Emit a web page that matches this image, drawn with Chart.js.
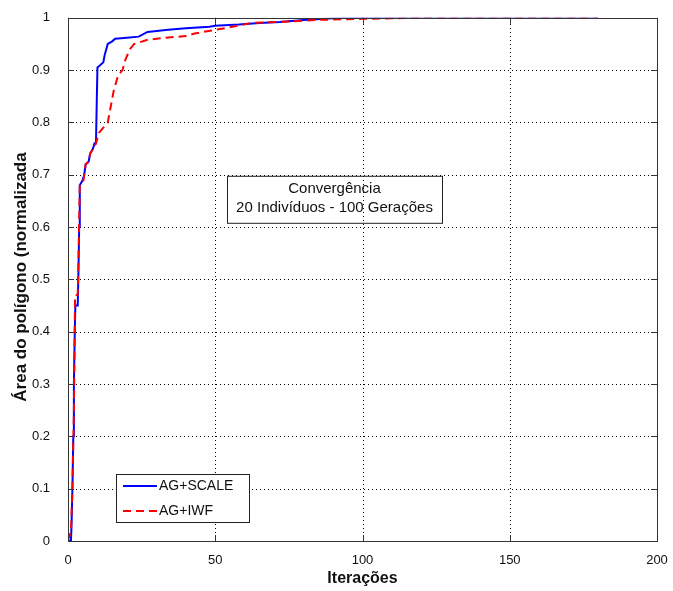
<!DOCTYPE html>
<html>
<head>
<meta charset="utf-8">
<script src="https://cdn.jsdelivr.net/npm/chart.js@4.4.1/dist/chart.umd.min.js"></script>
<style>
  html, body { margin: 0; padding: 0; background: #fff; }
  canvas { display: block; }
</style>
</head>
<body>
<canvas id="conv" width="673" height="591"></canvas>
<script>
// iterações / área normalizada
const scaleX = [0, 1, 1.2, 1.5, 1.8, 2, 2.3, 2.5, 3.3, 3.5, 3.8, 4, 5, 5.5, 6, 7, 7.5, 8.5, 9, 9.5, 9.8, 10, 11, 12, 12.5, 13, 13.5, 15, 16, 20, 24, 27, 34, 40, 48, 50, 58, 65, 72, 80, 90, 100, 180];
const scaleY = [0, 0, 0.03, 0.1, 0.2, 0.3, 0.4, 0.45, 0.45, 0.5, 0.6, 0.68, 0.69, 0.7, 0.72, 0.725, 0.74, 0.75, 0.76, 0.76, 0.85, 0.905, 0.91, 0.915, 0.93, 0.94, 0.95, 0.955, 0.96, 0.962, 0.964, 0.973, 0.977, 0.98, 0.983, 0.985, 0.987, 0.99, 0.992, 0.996, 0.999, 1, 1];

const iwfX = [0, 1, 1.5, 2, 2.4, 3.3, 3.6, 4, 5.3, 5.5, 6, 7, 7.5, 8.5, 9.5, 10.5, 12, 13.5, 14.5, 15.5, 17, 18.5, 19.5, 21, 22.5, 27, 33, 40, 43, 50, 58, 62, 75, 85, 100, 120, 180];
const iwfY = [0, 0.02, 0.1, 0.25, 0.47, 0.47, 0.55, 0.68, 0.69, 0.7, 0.72, 0.725, 0.74, 0.75, 0.76, 0.78, 0.79, 0.8, 0.83, 0.86, 0.89, 0.9, 0.92, 0.94, 0.95, 0.958, 0.962, 0.965, 0.97, 0.977, 0.985, 0.99, 0.993, 0.996, 0.998, 1, 1];

const seriesNames = ['AG+SCALE', 'AG+IWF'];
const xTicks = [0, 50, 100, 150, 200];
const yTicks = [0, 0.1, 0.2, 0.3, 0.4, 0.5, 0.6, 0.7, 0.8, 0.9, 1];
const boxLines = ['Convergência', '20 Indivíduos - 100 Gerações'];
const xTitle = 'Iterações';
const yTitle = 'Área do polígono (normalizada';

const toPoints = (xs, ys) => xs.map((x, i) => ({ x: x, y: ys[i] }));

const FONT = '"Liberation Sans", Arial, sans-serif';

// grade pontilhada por baixo das curvas
const dottedGrid = {
    id: 'dottedGrid',
    beforeDatasetsDraw(chart) {
        const ctx = chart.ctx;
        const a = chart.chartArea;
        const sx = chart.scales.x;
        const sy = chart.scales.y;
        ctx.save();
        ctx.strokeStyle = '#000';
        ctx.lineWidth = 1;
        ctx.setLineDash([1, 3]);
        ctx.beginPath();
        xTicks.forEach(v => {
            const px = Math.round(sx.getPixelForValue(v)) + 0.5;
            ctx.moveTo(px, a.bottom); ctx.lineTo(px, a.top);
        });
        yTicks.forEach(v => {
            const py = Math.round(sy.getPixelForValue(v)) + 0.5;
            ctx.moveTo(a.left, py); ctx.lineTo(a.right, py);
        });
        ctx.stroke();
        ctx.restore();
    }
};

// caixa, marcas internas, legenda e texto de anotação
const matlabAxes = {
    id: 'matlabAxes',
    afterDatasetsDraw(chart) {
        const ctx = chart.ctx;
        const a = chart.chartArea;
        const sx = chart.scales.x;
        const sy = chart.scales.y;

        ctx.save();
        ctx.strokeStyle = '#333';
        ctx.lineWidth = 1;
        ctx.setLineDash([]);

        ctx.beginPath();
        xTicks.forEach(v => {
            const px = Math.round(sx.getPixelForValue(v)) + 0.5;
            ctx.moveTo(px, a.bottom); ctx.lineTo(px, a.bottom - 6);
            ctx.moveTo(px, a.top); ctx.lineTo(px, a.top + 6);
        });
        yTicks.forEach(v => {
            const py = Math.round(sy.getPixelForValue(v)) + 0.5;
            ctx.moveTo(a.left, py); ctx.lineTo(a.left + 6, py);
            ctx.moveTo(a.right, py); ctx.lineTo(a.right - 6, py);
        });
        ctx.stroke();

        ctx.strokeRect(Math.round(a.left) + 0.5, Math.round(a.top) + 0.5,
            Math.round(a.right - a.left), Math.round(a.bottom - a.top));

        // caixa de texto (sem fundo)
        const bx = a.left + 159, by = a.top + 158, bw = 215, bh = 47;
        ctx.strokeStyle = '#222';
        ctx.strokeRect(bx + 0.5, by + 0.5, bw, bh);
        ctx.fillStyle = '#111';
        ctx.font = '15px ' + FONT;
        ctx.textAlign = 'center';
        ctx.textBaseline = 'middle';
        ctx.fillText(boxLines[0], bx + bw / 2, by + 13);
        ctx.fillText(boxLines[1], bx + bw / 2, by + 32);

        // legenda
        const lx = a.left + 48, ly = a.bottom - 67, lw = 133, lh = 48;
        ctx.fillStyle = '#fff';
        ctx.fillRect(lx, ly, lw, lh);
        ctx.strokeStyle = '#222';
        ctx.strokeRect(lx + 0.5, ly + 0.5, lw, lh);
        const colors = ['#0000ff', '#ff0000'];
        const dashes = [[], [8, 5]];
        seriesNames.forEach((name, i) => {
            const yy = ly + 12 + i * 25;
            ctx.beginPath();
            ctx.strokeStyle = colors[i];
            ctx.lineWidth = 2;
            ctx.setLineDash(dashes[i]);
            ctx.moveTo(lx + 7, yy);
            ctx.lineTo(lx + 41, yy);
            ctx.stroke();
            ctx.setLineDash([]);
            ctx.fillStyle = '#111';
            ctx.font = '14px ' + FONT;
            ctx.textAlign = 'left';
            ctx.fillText(name, lx + 43, yy);
        });

        // títulos dos eixos
        ctx.fillStyle = '#111';
        ctx.font = 'bold 16px ' + FONT;
        ctx.textAlign = 'center';
        ctx.fillText(xTitle, (a.left + a.right) / 2, 579);
        ctx.font = 'bold 17px ' + FONT;
        ctx.translate(21, 277);
        ctx.rotate(-Math.PI / 2);
        ctx.fillText(yTitle, 0, 0);
        ctx.restore();
    }
};

new Chart(document.getElementById('conv'), {
    type: 'scatter',
    data: {
        datasets: [
            {
                label: seriesNames[0],
                data: toPoints(scaleX, scaleY),
                showLine: true,
                borderColor: '#0000ff',
                borderWidth: 2,
                pointRadius: 0,
                tension: 0,
                order: 2
            },
            {
                label: seriesNames[1],
                data: toPoints(iwfX, iwfY),
                showLine: true,
                borderColor: '#ff0000',
                borderWidth: 2,
                borderDash: [8, 5],
                pointRadius: 0,
                tension: 0,
                order: 1
            }
        ]
    },
    options: {
        responsive: false,
        animation: false,
        layout: { padding: { left: 0, top: 15, right: 16, bottom: 0 } },
        plugins: {
            legend: { display: false },
            tooltip: { enabled: false }
        },
        scales: {
            x: {
                type: 'linear',
                min: 0,
                max: 200,
                afterFit: s => { s.height = 50; },
                afterBuildTicks: s => { s.ticks = xTicks.map(v => ({ value: v })); },
                ticks: {
                    color: '#111',
                    font: { family: FONT, size: 13 },
                    padding: 4,
                    callback: v => String(v)
                },
                grid: { display: false },
                border: { display: false }
            },
            y: {
                min: 0,
                max: 1,
                afterFit: s => { s.width = 68; },
                afterBuildTicks: s => { s.ticks = yTicks.map(v => ({ value: v })); },
                ticks: {
                    color: '#111',
                    font: { family: FONT, size: 13 },
                    padding: 10,
                    callback: v => String(v)
                },
                grid: { display: false },
                border: { display: false }
            }
        }
    },
    plugins: [dottedGrid, matlabAxes]
});
</script>
</body>
</html>
